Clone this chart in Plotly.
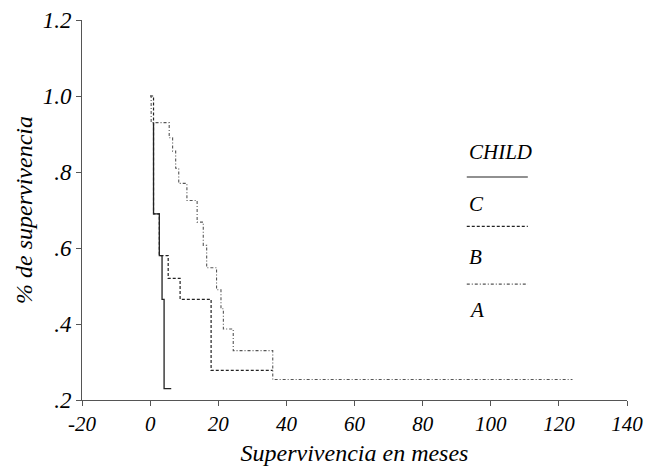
import plotly.graph_objects as go

# Kaplan-Meier step data (time in months, survival proportion)
c_time = [1.0, 1.0, 2.7, 3.5, 4.1, 6.2]
c_surv = [0.93, 0.69, 0.58, 0.465, 0.23, 0.23]

b_time = [0.0, 1.0, 2.7, 5.3, 8.8, 17.9, 36.0]
b_surv = [1.0, 0.69, 0.58, 0.52, 0.465, 0.278, 0.278]

a_time = [0.0, 0.3, 5.6, 6.6, 7.5, 8.4, 10.8, 13.8, 15.6, 16.6, 19.5, 20.8, 21.5, 24.4, 36.0, 124.0]
a_surv = [1.0, 0.93, 0.89, 0.855, 0.81, 0.77, 0.725, 0.668, 0.607, 0.548, 0.49, 0.44, 0.387, 0.33, 0.254, 0.254]

x_ticks = [-20, 0, 20, 40, 60, 80, 100, 120, 140]
x_ticktext = ["-20", "0", "20", "40", "60", "80", "100", "120", "140"]
y_ticks = [0.2, 0.4, 0.6, 0.8, 1.0, 1.2]
y_ticktext = [".2", ".4", ".6", ".8", "1.0", "1.2"]

legend_labels = ["C", "B", "A"]
legend_title = "CHILD"

FONT = "Liberation Serif"

fig = go.Figure()
fig.add_trace(go.Scatter(x=c_time, y=c_surv, mode="lines", line_shape="hv",
                         line=dict(color="#222", width=1.3), name="C"))
fig.add_trace(go.Scatter(x=b_time, y=b_surv, mode="lines", line_shape="hv",
                         line=dict(color="#222", width=1.2, dash="3px,2px"), name="B"))
fig.add_trace(go.Scatter(x=a_time, y=a_surv, mode="lines", line_shape="hv",
                         line=dict(color="#555", width=1.1, dash="3px,2px,1px,2px"), name="A"))

# legend drawn manually (title, line sample, label below)
dashes = ["solid", "3px,2px", "3px,2px,1px,2px"]
colors = ["#222", "#222", "#555"]
line_y = [0.587, 0.457, 0.305]
label_y = [0.517, 0.376, 0.238]
fig.add_annotation(x=0.706, y=0.653, xref="paper", yref="paper", text=legend_title,
                   showarrow=False, xanchor="left", yanchor="middle",
                   font=dict(family=FONT, size=21, color="black", style="italic"))
for lab, d, col, ly, ty in zip(legend_labels, dashes, colors, line_y, label_y):
    fig.add_shape(type="line", xref="paper", yref="paper", x0=0.706, x1=0.818, y0=ly, y1=ly,
                  line=dict(color=col, width=1.1, dash=d))
    fig.add_annotation(x=0.706, y=ty, xref="paper", yref="paper", text=lab,
                       showarrow=False, xanchor="left", yanchor="middle",
                       font=dict(family=FONT, size=21, color="black", style="italic"))

# page body has an 8px offset; margins compensate so the plot area matches
fig.update_layout(
    width=656, height=468,
    margin=dict(l=74, r=37, t=12, b=76),
    plot_bgcolor="white", paper_bgcolor="white",
    showlegend=False,
    font=dict(family=FONT, size=22, color="black"),
)
fig.update_xaxes(range=[-20, 140], tickvals=x_ticks, ticktext=x_ticktext, showgrid=False,
                 zeroline=False, automargin=False,
                 showline=True, linecolor="#555", linewidth=1, ticks="outside",
                 ticklen=5, tickcolor="#555",
                 tickfont=dict(family=FONT, size=21, style="italic"),
                 title=dict(text="Supervivencia en meses",
                            font=dict(family=FONT, size=24, style="italic"), standoff=8))
fig.update_yaxes(range=[0.2, 1.2], tickvals=y_ticks, ticktext=y_ticktext, showgrid=False,
                 zeroline=False, automargin=False, showline=True, linecolor="#555", linewidth=1,
                 ticks="outside", ticklen=5, tickcolor="#555", ticklabeloverflow="allow",
                 tickfont=dict(family=FONT, size=23, style="italic"),
                 title=dict(text="% de supervivencia",
                            font=dict(family=FONT, size=24, style="italic"), standoff=3))

fig.write_html("out.html")
